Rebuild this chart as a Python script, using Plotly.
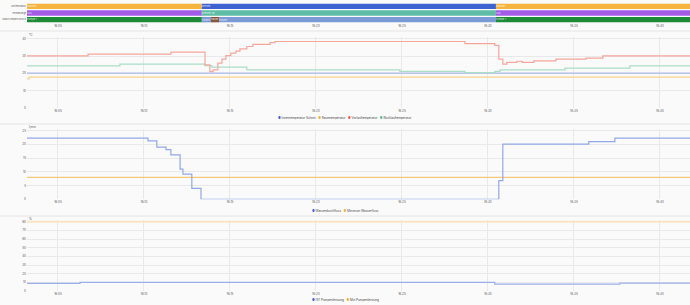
import plotly.graph_objects as go
from datetime import datetime

DAY = "2024-03-01 "
T_START = "16:03:12"
T_END = "16:41:45"

# ---------------- status timeline data ----------------
status_rows = ["Antriebsstatus", "Pelletanzeige", "Status Pumpen und Co"]

row1_starts = ["16:03:12", "16:13:22", "16:30:28"]
row1_ends = ["16:13:22", "16:30:28", "16:41:45"]
row1_states = ["Standby", "Betrieb", "Standby"]

row2_starts = ["16:03:12", "16:13:22", "16:30:28"]
row2_ends = ["16:13:22", "16:30:28", "16:41:45"]
row2_states = ["Aus", "Brenner an", "Aus"]

row3_starts = ["16:03:12", "16:13:22", "16:13:54", "16:14:22", "16:30:28"]
row3_ends = ["16:13:22", "16:13:54", "16:14:22", "16:30:28", "16:41:45"]
row3_states = ["Pumpe 1", "Heizen", "Pause", "Heizen", "Pumpe 1"]

# ---------------- temperature panel ----------------
vorlauf_t = ["16:03:12", "16:06:45", "16:11:34", "16:13:33", "16:13:50", "16:14:01",
             "16:14:18", "16:14:32", "16:14:46", "16:15:03", "16:15:21", "16:15:35",
             "16:15:59", "16:16:20", "16:17:20", "16:17:37", "16:28:40", "16:30:24",
             "16:30:38", "16:30:52", "16:31:06", "16:31:41", "16:31:59", "16:32:40",
             "16:33:57", "16:35:42", "16:36:41", "16:41:45"]
vorlauf_v = [30.1, 31.1, 32.3, 24.9, 21.0, 22.0, 25.9, 28.2, 30.3, 31.7, 32.9, 34.2,
             35.5, 36.7, 37.8, 38.4, 37.2, 36.2, 28.2, 25.3, 26.3, 27.0, 26.3, 27.2,
             28.2, 28.8, 30.1, 30.1]

ruecklauf_t = ["16:03:12", "16:08:36", "16:13:33", "16:13:57", "16:15:59", "16:24:53",
               "16:28:40", "16:30:24", "16:30:42", "16:34:29", "16:38:15", "16:41:45"]
ruecklauf_v = [24.3, 25.3, 24.5, 23.6, 22.0, 21.2, 20.4, 21.2, 22.0, 23.0, 24.3, 24.3]

innen_t = ["16:03:12", "16:41:45"]
innen_v = [20.1, 20.1]

raum_t = ["16:03:12", "16:03:19", "16:41:45"]
raum_v = [16.8, 17.8, 17.8]

# ---------------- water flow panel ----------------
fluss_t = ["16:03:12", "16:10:14", "16:10:45", "16:11:17", "16:11:34", "16:12:06",
           "16:12:16", "16:12:47", "16:13:19", "16:30:38", "16:30:52", "16:35:52",
           "16:37:23", "16:41:45"]
fluss_v = [22.3, 21.3, 19.0, 18.1, 16.2, 11.0, 9.2, 4.0, 0.0, 6.8, 20.1, 21.0, 22.3, 22.3]

minfluss_t = ["16:03:12", "16:41:45"]
minfluss_v = [8.0, 8.0]

# ---------------- pump panel ----------------
pumpe_t = ["16:03:12", "16:06:17", "16:30:24", "16:37:40", "16:41:45"]
pumpe_v = [8.9, 10.0, 8.0, 9.2, 9.2]

minpumpe_t = ["16:03:12", "16:41:45"]
minpumpe_v = [80, 80]

# ---------------- styling ----------------
state_colors = {"Standby": "#F4B43E", "Betrieb": "#3E62CF", "Aus": "#A35CE6",
                "Brenner an": "#5FBDA5", "Pumpe 1": "#1E8A38", "Heizen": "#7C9AD6",
                "Pause": "#87593A"}
FONT = "Inter"
TICK_FONT = dict(family=FONT, size=3, color="#555")
GRID = "#e9e9e9"
BG = "#fafafa"
W, H = 690, 305


def ts(t):
    return DAY + t


def py(px):
    return 1 - px / H


def dur_ms(a, b):
    fa = datetime.strptime(a, "%H:%M:%S")
    fb = datetime.strptime(b, "%H:%M:%S")
    return (fb - fa).total_seconds() * 1000


fig = go.Figure()

# status bars
for row, starts, ends, states in [(status_rows[0], row1_starts, row1_ends, row1_states),
                                  (status_rows[1], row2_starts, row2_ends, row2_states),
                                  (status_rows[2], row3_starts, row3_ends, row3_states)]:
    fig.add_trace(go.Bar(
        orientation="h", y=[row] * len(starts),
        x=[dur_ms(a, b) for a, b in zip(starts, ends)],
        base=[ts(a) for a in starts],
        marker=dict(color=[state_colors[s] for s in states], line=dict(width=0)),
        text=states, textposition="inside", insidetextanchor="start",
        textfont=dict(family=FONT, size=2.5, color="rgba(255,255,255,0.85)"),
        width=0.8, xaxis="x", yaxis="y", showlegend=False, hoverinfo="skip"))


def line(t, v, color, width, xa, ya):
    fig.add_trace(go.Scatter(x=[ts(a) for a in t], y=v, mode="lines",
                             line=dict(color=color, width=width, shape="hv"),
                             xaxis=xa, yaxis=ya, showlegend=False, hoverinfo="skip"))


line(raum_t, raum_v, "#F6D28C", 1.2, "x2", "y2")
line(innen_t, innen_v, "#ABB8EA", 1.2, "x2", "y2")
line(ruecklauf_t, ruecklauf_v, "#ABDDC7", 1.2, "x2", "y2")
line(vorlauf_t, vorlauf_v, "#F6A69B", 1.2, "x2", "y2")

line(minfluss_t, minfluss_v, "#F3C978", 1.2, "x3", "y3")
line(fluss_t, fluss_v, "#92A8E8", 1.2, "x3", "y3")

line(minpumpe_t, minpumpe_v, "#F9E4C4", 1.8, "x4", "y4")
line(pumpe_t, pumpe_v, "#9CAEEA", 1.2, "x4", "y4")

xdom = [27 / W, 1]
xcommon = dict(type="date", range=[ts(T_START), ts(T_END)], domain=xdom,
               tickformat="%H:%M", dtick=300000, tick0=ts("16:05:00"),
               tickfont=TICK_FONT, zeroline=False, showline=False, ticks="",
               automargin=False)
ycommon = dict(tickfont=TICK_FONT, zeroline=False, ticks="", automargin=False)

layout = dict(
    width=W, height=H, margin=dict(l=0, r=0, t=0, b=0, autoexpand=False),
    paper_bgcolor=BG, plot_bgcolor=BG, barmode="overlay", showlegend=False,
    font=dict(family=FONT),
    xaxis=dict(xcommon, anchor="y", showgrid=False),
    yaxis=dict(ycommon, domain=[py(23), py(3)], type="category",
               categoryarray=status_rows, autorange="reversed", showgrid=False,
               anchor="x", tickfont=dict(family=FONT, size=2.2, color="#555")),
    xaxis2=dict(xcommon, anchor="y2", showgrid=True, gridcolor=GRID),
    yaxis2=dict(ycommon, domain=[py(108), py(37)], range=[0, 41],
                tickvals=[0, 10, 20, 30, 40], gridcolor=GRID, anchor="x2"),
    xaxis3=dict(xcommon, anchor="y3", showgrid=True, gridcolor=GRID),
    yaxis3=dict(ycommon, domain=[py(199.3), py(129)], range=[0, 25.6],
                tickvals=[0, 5, 10, 15, 20, 25], gridcolor=GRID, anchor="x3"),
    xaxis4=dict(xcommon, anchor="y4", showgrid=True, gridcolor=GRID),
    yaxis4=dict(ycommon, domain=[py(291), py(220)], range=[0, 82],
                tickvals=[0, 10, 20, 30, 40, 50, 60, 70, 80], gridcolor=GRID,
                anchor="x4"),
)
fig.update_layout(**layout)

# panel separators
for ypx in [31, 124, 216]:
    fig.add_shape(type="line", xref="paper", yref="paper", x0=0, x1=1,
                  y0=py(ypx), y1=py(ypx), line=dict(color="#e4e4e4", width=1))

# unit labels
for txt, ypx in [("°C", 35), ("l/min", 127), ("%", 219)]:
    fig.add_annotation(text=txt, xref="paper", yref="paper", x=27 / W, y=py(ypx),
                       xanchor="left", yanchor="middle", showarrow=False,
                       font=dict(family=FONT, size=3, color="#555"))


def legend(items, ypx):
    parts = [f'<span style="color:{c}">●</span> {n}' for n, c in items]
    fig.add_annotation(text="   ".join(parts), xref="paper", yref="paper",
                       x=0.5, y=py(ypx), xanchor="center", yanchor="middle",
                       showarrow=False, font=dict(family=FONT, size=3, color="#444"))


legend([("Innentemperatur Schnitt", "#3B5FD9"), ("Raumtemperatur", "#F5B031"),
        ("Vorlauftemperatur", "#F2554A"), ("Rücklauftemperatur", "#4DBF94")], 118)
legend([("Wasserdurchfluss", "#3B5FD9"), ("Minimum Wasserfluss", "#F5B031")], 211)
legend([("IST Pumpenleistung", "#3B5FD9"), ("Min Pumpenleistung", "#F5B031")], 300)

fig.write_html("out.html")
